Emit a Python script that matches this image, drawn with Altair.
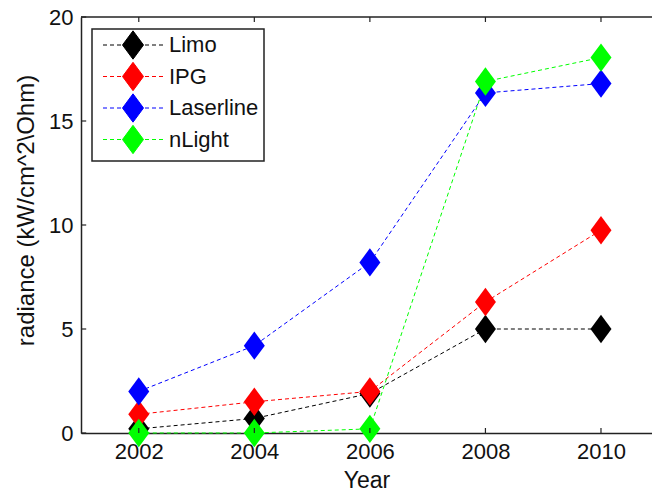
import altair as alt
import pandas as pd

years = [2002, 2004, 2006, 2008, 2010]
series_names = ["Limo", "IPG", "Laserline", "nLight"]
limo = [0.2, 0.7, 1.9, 5.0, 5.0]
ipg = [0.9, 1.5, 2.0, 6.3, 9.75]
laserline = [2.0, 4.2, 8.2, 16.35, 16.8]
nlight = [0.0, 0.0, 0.2, 16.9, 18.05]
colors = ["#000000", "#ff0000", "#0000ff", "#00ff00"]

x_ticks = [2002, 2004, 2006, 2008, 2010]
y_ticks = [0, 5, 10, 15, 20]

rows = []
for name, vals in zip(series_names, [limo, ipg, laserline, nlight]):
    for yr, v in zip(years, vals):
        rows.append({"Year": yr, "value": v, "series": name})
df = pd.DataFrame(rows)

FONT = "Liberation Sans"
AX = "#222222"
XDOM = [2001, 2010.883]
YDOM = [0, 20]

xs = alt.Scale(domain=XDOM, nice=False, zero=False)
ys = alt.Scale(domain=YDOM, nice=False)

diamond = "M0,-1.35L1,0L0,1.35L-1,0Z"
def u(px):
    return round(px / 10.5, 4)
dash_pairs = [(-30, -26), (-23, -19), (-16, -12), (12, 16), (19, 23), (26, 30)]
legend_path = diamond + "".join(f"M{u(a)},0L{u(b)},0" for a, b in dash_pairs)

color = alt.Color(
    "series:N",
    scale=alt.Scale(domain=series_names, range=colors),
    sort=series_names,
    legend=alt.Legend(
        title=None,
        orient="none",
        legendX=11,
        legendY=12,
        symbolType=legend_path,
        symbolSize=441,
        symbolStrokeWidth=1,
        symbolOffset=25,
        labelOffset=25,
        labelFontSize=22,
        labelFont=FONT,
        labelColor="#111111",
        labelExpr="datum.label + '\u00a0\u2009'",
        rowPadding=-2.5,
        padding=5,
        strokeColor=AX,
        fillColor="white",
    ),
)

lines = alt.Chart(df).mark_line(
    strokeDash=[4, 3], strokeWidth=1
).encode(
    x=alt.X(
        "Year:Q",
        scale=xs,
        axis=alt.Axis(
            values=x_ticks,
            format="d",
            tickSize=0,
            labelPadding=8,
            labelFontSize=22,
            labelFont=FONT,
            labelColor="#111111",
            grid=False,
            domainColor=AX,
            domainWidth=1.5,
            title="Year",
            titleFont=FONT,
            titleFontSize=23,
            titleFontWeight="normal",
            titleColor="#111111",
            titleBaseline="alphabetic",
            titleY=54,
        ),
    ),
    y=alt.Y(
        "value:Q",
        scale=ys,
        axis=alt.Axis(
            values=y_ticks,
            tickSize=0,
            labelPadding=8,
            labelFontSize=22,
            labelFont=FONT,
            labelColor="#111111",
            grid=False,
            domainColor=AX,
            domainWidth=1.5,
            title="radiance (kW/cm^2\\Ohm)",
            titleFont=FONT,
            titleFontSize=24,
            titleFontWeight="normal",
            titleColor="#111111",
            titleAngle=270,
            titleBaseline="alphabetic",
            titleAlign="center",
            titleX=-48,
            titleY=193,
        ),
    ),
    color=color,
    detail="series:N",
)

points = alt.Chart(df).mark_point(
    shape=diamond, filled=True, size=441, opacity=1
).encode(
    x=alt.X("Year:Q", scale=xs),
    y=alt.Y("value:Q", scale=ys),
    color=color,
)

# top frame line
top_df = pd.DataFrame({"y": [20]})
top_line = alt.Chart(top_df).mark_rule(color=AX, strokeWidth=1.5).encode(
    y=alt.Y("y:Q", scale=ys)
)

# inward ticks
bt = pd.DataFrame({"x": x_ticks, "y0": [0] * len(x_ticks), "y1": [0.24] * len(x_ticks)})
tt = pd.DataFrame({"x": x_ticks, "y0": [20] * len(x_ticks), "y1": [19.76] * len(x_ticks)})
lt = pd.DataFrame({"y": y_ticks, "x0": [2001] * len(y_ticks), "x1": [2001.09] * len(y_ticks)})

bticks = alt.Chart(bt).mark_rule(color=AX, strokeWidth=1.2).encode(
    x=alt.X("x:Q", scale=xs), y=alt.Y("y0:Q", scale=ys), y2="y1:Q"
)
tticks = alt.Chart(tt).mark_rule(color=AX, strokeWidth=1.2).encode(
    x=alt.X("x:Q", scale=xs), y=alt.Y("y0:Q", scale=ys), y2="y1:Q"
)
lticks = alt.Chart(lt).mark_rule(color=AX, strokeWidth=1.2).encode(
    y=alt.Y("y:Q", scale=ys), x=alt.X("x0:Q", scale=xs), x2="x1:Q"
)

chart = alt.layer(lines, points, top_line, bticks, tticks, lticks).properties(
    width=571,
    height=416,
    autosize=alt.AutoSizeParams(type="none"),
    padding={"left": 81, "top": 17, "right": 0, "bottom": 60},
    background="white",
).configure_view(stroke=None).configure_legend(strokeWidth=1.5, cornerRadius=0)

chart.save("out.html", embed_options={"renderer": "svg", "actions": False})
